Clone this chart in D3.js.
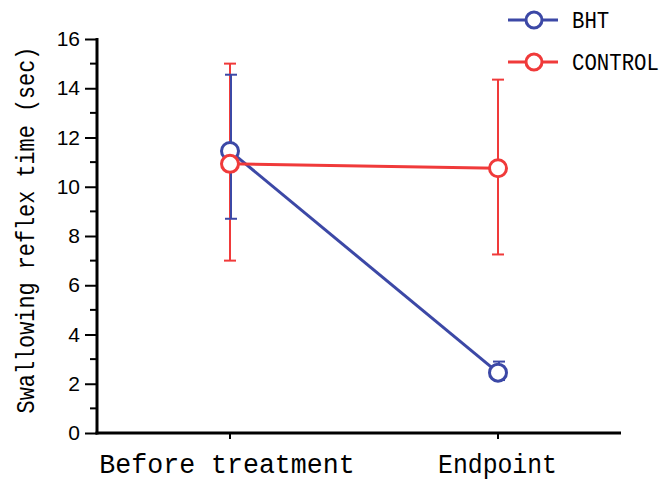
<!DOCTYPE html>
<html>
<head>
<meta charset="utf-8">
<script src="https://cdn.jsdelivr.net/npm/d3@7"></script>
<style>
  body { margin: 0; background: #fff; }
  svg { display: block; }
</style>
</head>
<body>
<div id="chart"></div>
<script>
// data
const categories = ["Before treatment", "Endpoint"];
const seriesNames = ["BHT", "CONTROL"];
const bhtMean = [11.45, 2.45];
const bhtLow = [8.7, 2.15];
const bhtHigh = [14.55, 2.9];
const controlMean = [10.93, 10.75];
const controlLow = [7.0, 7.25];
const controlHigh = [15.0, 14.35];
const yTicks = [0, 2, 4, 6, 8, 10, 12, 14, 16];
const yMinorTicks = [1, 3, 5, 7, 9, 11, 13, 15];

const width = 666, height = 482;
const axisX = 97, axisY = 433, axisTop = 39, axisRight = 621;
const blue = "#3c48a6", red = "#f03a3a";
const monoFont = "Liberation Mono, DejaVu Sans Mono, monospace";

const svg = d3.select("#chart").append("svg")
    .attr("width", width)
    .attr("height", height);

const x = d3.scalePoint().domain(categories).range([230, 498]);
const y = d3.scaleLinear().domain([0, 16]).range([axisY, axisTop]);

///
/// AXES
///

const yAxis = svg.append("g")
    .attr("transform", `translate(${axisX},0)`)
    .call(d3.axisLeft(y).tickValues(yTicks).tickSize(12).tickPadding(5).tickFormat(d3.format("d")));
yAxis.select(".domain").remove();
yAxis.selectAll(".tick line").attr("stroke", "#000").attr("stroke-width", 2);
yAxis.selectAll(".tick text")
    .attr("font-family", "Liberation Sans, Arial, sans-serif")
    .attr("font-size", 21)
    .attr("fill", "#000");

svg.append("g").selectAll("line")
    .data(yMinorTicks)
    .join("line")
    .attr("x1", axisX - 7).attr("x2", axisX)
    .attr("y1", d => y(d)).attr("y2", d => y(d))
    .attr("stroke", "#000").attr("stroke-width", 2);

svg.append("line")
    .attr("x1", axisX).attr("x2", axisX)
    .attr("y1", axisTop - 1).attr("y2", axisY + 1.5)
    .attr("stroke", "#000").attr("stroke-width", 3);

svg.append("line")
    .attr("x1", axisX - 1.5).attr("x2", axisRight)
    .attr("y1", axisY).attr("y2", axisY)
    .attr("stroke", "#000").attr("stroke-width", 3);

// x ticks and labels
svg.append("g").selectAll("line")
    .data(categories)
    .join("line")
    .attr("x1", d => x(d)).attr("x2", d => x(d))
    .attr("y1", axisY).attr("y2", axisY + 6)
    .attr("stroke", "#000").attr("stroke-width", 2);

// narrow, tall glyphs like the original's gothic font
const xLabelScale = { "Before treatment": 0.95, "Endpoint": 0.885 };
svg.append("g").selectAll("text")
    .data(categories)
    .join("text")
    .attr("transform", d => `translate(${x(d) - (d === "Endpoint" ? 0.5 : 3)},473) scale(${xLabelScale[d]},1)`)
    .attr("text-anchor", "middle")
    .attr("font-family", monoFont)
    .attr("font-size", 28)
    .attr("fill", "#000")
    .text(d => d);

// y title
svg.append("text")
    .attr("transform", "translate(34,230) rotate(-90) scale(0.84,1)")
    .attr("text-anchor", "middle")
    .attr("font-family", monoFont)
    .attr("font-size", 26)
    .attr("fill", "#000")
    .text("Swallowing reflex time (sec)");

///
/// SERIES
///

function toRows(mean, low, high) {
    return categories.map((c, i) => ({ cat: c, mean: mean[i], low: low[i], high: high[i] }));
}
const bhtRows = toRows(bhtMean, bhtLow, bhtHigh);
const controlRows = toRows(controlMean, controlLow, controlHigh);

function drawErrorBars(rows, color, dx) {
    const g = svg.append("g").attr("stroke", color).attr("stroke-width", 2);
    g.selectAll(".stem")
        .data(rows)
        .join("line")
        .attr("x1", d => x(d.cat) + dx).attr("x2", d => x(d.cat) + dx)
        .attr("y1", d => y(d.low)).attr("y2", d => y(d.high));
    g.selectAll(".capTop")
        .data(rows)
        .join("line")
        .attr("x1", d => x(d.cat) + dx - 6).attr("x2", d => x(d.cat) + dx + 6)
        .attr("y1", d => y(d.high)).attr("y2", d => y(d.high));
    g.selectAll(".capBottom")
        .data(rows)
        .join("line")
        .attr("x1", d => x(d.cat) + dx - 6).attr("x2", d => x(d.cat) + dx + 6)
        .attr("y1", d => y(d.low)).attr("y2", d => y(d.low));
}

const line = d3.line().x(d => x(d.cat)).y(d => y(d.mean));

function drawSeries(rows, color) {
    svg.append("path")
        .datum(rows)
        .attr("d", line)
        .attr("fill", "none")
        .attr("stroke", color)
        .attr("stroke-width", 3);
    svg.append("g").selectAll("circle")
        .data(rows)
        .join("circle")
        .attr("cx", d => x(d.cat))
        .attr("cy", d => y(d.mean))
        .attr("r", 8.5)
        .attr("fill", "#fff")
        .attr("stroke", color)
        .attr("stroke-width", 3);
}

drawErrorBars(controlRows, red, 0);
drawErrorBars(bhtRows, blue, 1);
drawSeries(bhtRows, blue);
drawSeries(controlRows, red);

///
/// LEGEND
///

const legendColors = [blue, red];
const legend = svg.append("g").selectAll("g")
    .data(seriesNames)
    .join("g")
    .attr("transform", (d, i) => `translate(508, ${20 + i * 42})`);
legend.append("line")
    .attr("x1", 0).attr("x2", 50)
    .attr("stroke", (d, i) => legendColors[i])
    .attr("stroke-width", 3);
legend.append("circle")
    .attr("cx", 26).attr("r", 8)
    .attr("fill", "#fff")
    .attr("stroke", (d, i) => legendColors[i])
    .attr("stroke-width", 3);
legend.append("text")
    .attr("transform", "translate(64,8) scale(0.9,1)")
    .attr("font-family", monoFont)
    .attr("font-size", 23)
    .attr("fill", "#000")
    .text(d => d);
</script>
</body>
</html>
